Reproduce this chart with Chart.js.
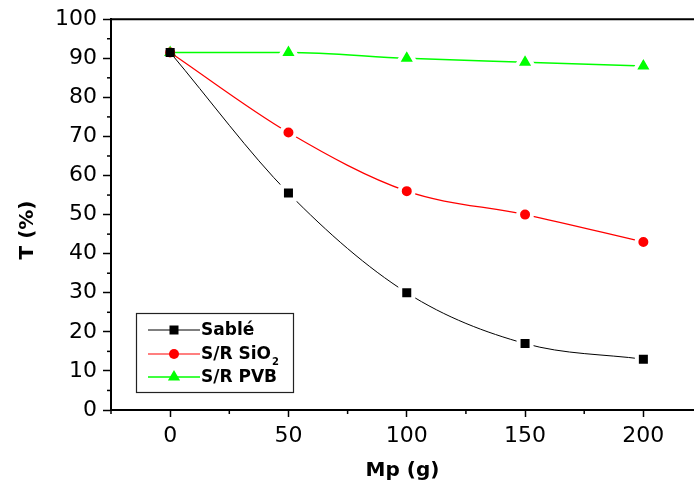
<!DOCTYPE html>
<html>
<head>
<meta charset="utf-8">
<script src="https://cdn.jsdelivr.net/npm/chart.js@4/dist/chart.umd.min.js"></script>
<style>
  html, body { margin: 0; padding: 0; background: #fff; overflow: hidden; }
  canvas { display: block; }
</style>
</head>
<body>
<canvas id="transChart" width="694" height="488"></canvas>
<script>
// masse de sable projetée (g)
var mp = [0, 50, 100, 150, 200];
// transmittance T (%)
var tSable = [91.5, 55.5, 30, 17, 13];
var tSiO2 = [91.5, 71, 56, 50, 43];
var tPVB = [91.5, 91.5, 90, 89, 88];

var xMajorTicks = [0, 50, 100, 150, 200];
var xMinorTicks = [-25, 25, 75, 125, 175];
var yMinorTicks = [5, 15, 25, 35, 45, 55, 65, 75, 85, 95];

var tickFont = { family: 'DejaVu Sans', size: 22 };
var titleFont = { family: 'DejaVu Sans', size: 20, weight: 'bold' };

function pts(xs, ys) {
    return xs.map(function (x, i) { return { x: x, y: ys[i] }; });
}

// rayon agrandi + bord blanc pour laisser un petit blanc entre la ligne et le symbole
function radiusFn(base) {
    return function (ctx) { return ctx.dataIndex === 0 ? base.r0 : base.r; };
}
function borderFn(ctx) { return ctx.dataIndex === 0 ? 0 : 4; }

// l'axe X doit aller jusqu'au bord droit de l'image
var fullWidth = {
    id: 'fullWidth',
    afterLayout: function (chart) {
        var sx = chart.scales.x;
        chart.chartArea.right = chart.width;
        chart.chartArea.width = chart.width - chart.chartArea.left;
        sx.right = chart.width;
        sx.width = sx.right - sx.left;
        sx.configure();
    }
};

// petites graduations + cadre du haut + titre Y
var axesExtra = {
    id: 'axesExtra',
    afterDraw: function (chart) {
        var c = chart.ctx, a = chart.chartArea;
        var sx = chart.scales.x, sy = chart.scales.y;
        c.save();
        c.strokeStyle = '#000';
        c.lineWidth = 2;
        c.beginPath();
        c.moveTo(a.left - 1, a.top);
        c.lineTo(a.right, a.top);
        c.stroke();
        c.lineWidth = 1.5;
        yMinorTicks.forEach(function (v) {
            var y = sy.getPixelForValue(v);
            c.beginPath();
            c.moveTo(a.left - 4, y);
            c.lineTo(a.left, y);
            c.stroke();
        });
        xMinorTicks.forEach(function (v) {
            var x = sx.getPixelForValue(v);
            c.beginPath();
            c.moveTo(x, a.bottom);
            c.lineTo(x, a.bottom + 4);
            c.stroke();
        });
        c.translate(28, 230);
        c.rotate(-Math.PI / 2);
        c.fillStyle = '#000';
        c.font = 'bold 20px "DejaVu Sans"';
        c.textAlign = 'center';
        c.textBaseline = 'middle';
        c.fillText('T (%)', 0, 0);
        c.restore();
    }
};

function drawMarker(c, style, x, y, color) {
    c.fillStyle = color;
    c.beginPath();
    if (style === 'rect') {
        c.rect(x - 4.5, y - 4.5, 9, 9);
    } else if (style === 'circle') {
        c.arc(x, y, 5, 0, Math.PI * 2);
    } else {
        c.moveTo(x, y - 7);
        c.lineTo(x + 6.1, y + 3.5);
        c.lineTo(x - 6.1, y + 3.5);
        c.closePath();
    }
    c.fill();
}

// légende dessinée à la main (ligne + symbole, indice du SiO2)
var legendBox = {
    id: 'legendBox',
    afterDraw: function (chart) {
        var c = chart.ctx;
        c.save();
        c.fillStyle = '#fff';
        c.fillRect(136, 313, 158, 80);
        c.strokeStyle = '#222';
        c.lineWidth = 1.2;
        c.strokeRect(136.5, 313.5, 157, 79);
        var rows = [330, 354, 377];
        chart.data.datasets.forEach(function (ds, i) {
            var y = rows[i];
            c.strokeStyle = ds.borderColor;
            c.lineWidth = ds.borderWidth;
            c.beginPath();
            c.moveTo(148, y);
            c.lineTo(200, y);
            c.stroke();
            drawMarker(c, ds.pointStyle, 174, y, ds.backgroundColor);
            c.fillStyle = '#000';
            c.font = 'bold 17px "DejaVu Sans"';
            c.textBaseline = 'middle';
            c.textAlign = 'left';
            if (ds.label === 'S/R SiO2') {
                c.fillText('S/R SiO', 201, y + 1);
                var w = c.measureText('S/R SiO').width;
                c.font = 'bold 10px "DejaVu Sans"';
                c.fillText('2', 201 + w + 1, y + 8);
            } else {
                c.fillText(ds.label, 201, y + 1);
            }
        });
        c.restore();
    }
};

var ctx = document.getElementById('transChart').getContext('2d');
var transChartInstance = new Chart(ctx, {
    type: 'line',
    data: {
        datasets: [{
            label: 'Sablé',
            data: pts(mp, tSable),
            borderColor: '#000000',
            backgroundColor: '#000000',
            borderWidth: 1,
            pointStyle: 'rect',
            pointRadius: radiusFn({ r0: 6.4, r: 9.2 }),
            pointBorderWidth: borderFn,
            pointBorderColor: '#ffffff',
            cubicInterpolationMode: 'monotone'
        }, {
            label: 'S/R SiO2',
            data: pts(mp, tSiO2),
            borderColor: '#ff0000',
            backgroundColor: '#ff0000',
            borderWidth: 1.2,
            pointStyle: 'circle',
            pointRadius: radiusFn({ r0: 5, r: 7 }),
            pointBorderWidth: borderFn,
            pointBorderColor: '#ffffff',
            cubicInterpolationMode: 'monotone'
        }, {
            label: 'S/R PVB',
            data: pts(mp, tPVB),
            borderColor: '#00ff00',
            backgroundColor: '#00ff00',
            borderWidth: 1.5,
            pointStyle: 'triangle',
            pointRadius: radiusFn({ r0: 7, r: 11 }),
            pointBorderWidth: borderFn,
            pointBorderColor: '#ffffff',
            cubicInterpolationMode: 'monotone'
        }]
    },
    options: {
        responsive: false,
        animation: false,
        layout: { padding: { top: 18, right: 0, left: 0, bottom: 0 } },
        plugins: {
            legend: { display: false },
            tooltip: { enabled: false }
        },
        scales: {
            x: {
                type: 'linear',
                min: -25,
                max: 221.4,
                afterBuildTicks: function (scale) {
                    scale.ticks = xMajorTicks.map(function (v) { return { value: v }; });
                },
                afterFit: function (scale) {
                    scale.height = 78;
                },
                border: { display: true, color: '#000', width: 2 },
                grid: { drawOnChartArea: false, drawTicks: true, tickLength: 7, tickWidth: 1.5, tickColor: '#000' },
                ticks: { color: '#000', font: tickFont, padding: 6, maxRotation: 0 },
                title: { display: true, text: 'Mp (g)', color: '#000', font: titleFont, padding: { top: 0, bottom: 5 } }
            },
            y: {
                min: 0,
                max: 100,
                afterFit: function (scale) {
                    scale.width = 111;
                },
                border: { display: true, color: '#000', width: 2 },
                grid: { drawOnChartArea: false, drawTicks: true, tickLength: 8, tickWidth: 1.5, tickColor: '#000' },
                ticks: { stepSize: 10, color: '#000', font: tickFont, padding: 6 }
            }
        }
    },
    plugins: [fullWidth, axesExtra, legendBox]
});
</script>
</body>
</html>
